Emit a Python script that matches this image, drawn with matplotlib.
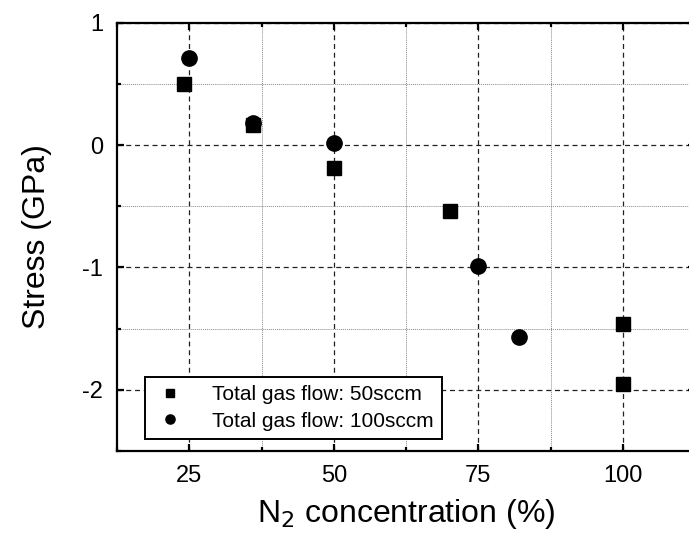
import matplotlib.pyplot as plt
from matplotlib.ticker import MultipleLocator

plt.rcParams['font.family'] = ['Liberation Sans', 'DejaVu Sans']
plt.rcParams['axes.unicode_minus'] = False

# Total gas flow: 50 sccm
n2_50 = [24, 36, 50, 70, 100, 100]
stress_50 = [0.50, 0.16, -0.19, -0.54, -1.46, -1.95]

# Total gas flow: 100 sccm
n2_100 = [25, 36, 50, 75, 82]
stress_100 = [0.71, 0.18, 0.02, -0.99, -1.57]

fig = plt.figure(figsize=(6.89, 5.4), dpi=100)
ax = fig.add_axes([0.170, 0.165, 0.839, 0.793])

ax.set_xlim(12.5, 112.5)
ax.set_ylim(-2.5, 1)
ax.xaxis.set_major_locator(MultipleLocator(25))
ax.xaxis.set_minor_locator(MultipleLocator(12.5))
ax.yaxis.set_major_locator(MultipleLocator(1))
ax.yaxis.set_minor_locator(MultipleLocator(0.5))

ax.grid(which='major', color='#222222', linestyle=(0, (4, 3)), linewidth=0.9)
ax.grid(which='minor', color='#888888', linestyle=(0, (1, 1)), linewidth=0.7)
ax.set_axisbelow(True)

ax.plot(n2_50, stress_50, 's', color='black', ms=10, label='Total gas flow: 50sccm')
ax.plot(n2_100, stress_100, 'o', color='black', ms=11, label='Total gas flow: 100sccm')

for s in ax.spines.values():
    s.set_linewidth(1.6)

ax.tick_params(which='both', direction='in', top=True, right=True, width=1.6)
ax.tick_params(which='major', length=5, labelsize=17, pad=10)
ax.tick_params(which='minor', length=3)

ax.set_xlabel('N$_2$ concentration (%)', fontsize=23, labelpad=7)
ax.set_ylabel('Stress (GPa)', fontsize=23, labelpad=22)

leg = ax.legend(loc='lower left', bbox_to_anchor=(0.048, 0.028), fontsize=15,
                frameon=True, fancybox=False, markerscale=0.6,
                handlelength=1.6, handletextpad=1.2, borderpad=0.4,
                labelspacing=0.35, framealpha=1, borderaxespad=0)
leg.get_frame().set_edgecolor('black')
leg.get_frame().set_linewidth(1.4)

fig.savefig('out.png', dpi=100)
